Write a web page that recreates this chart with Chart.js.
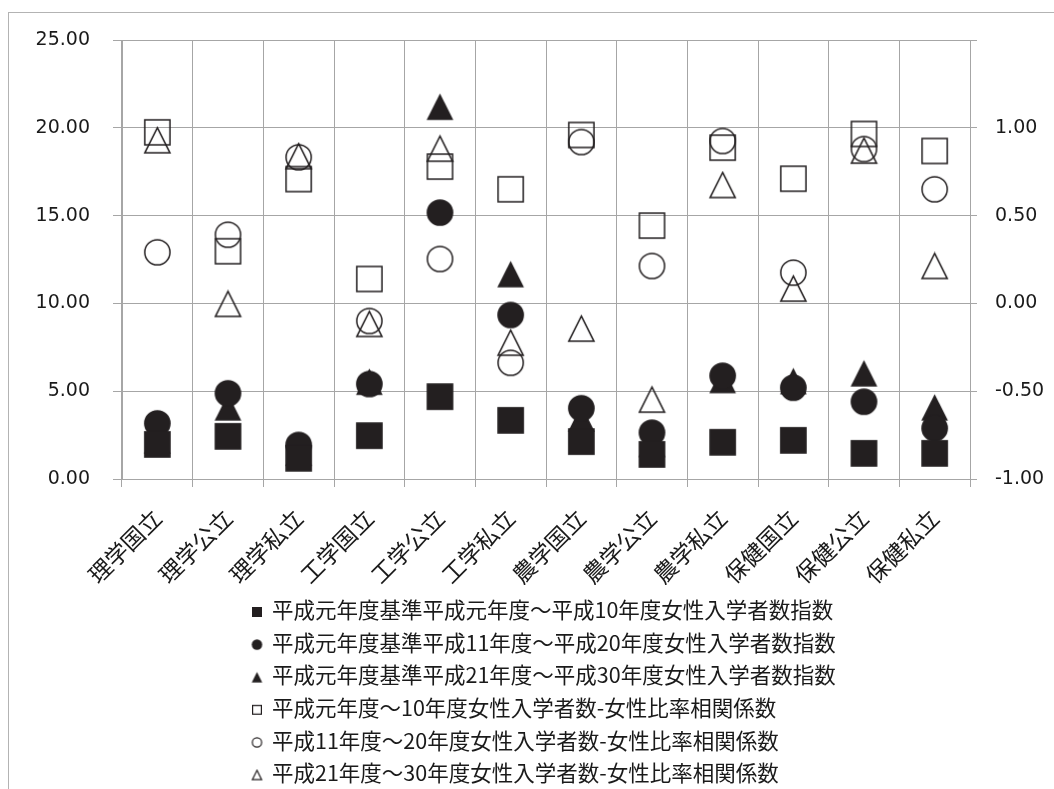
<!DOCTYPE html>
<html lang="ja">
<head>
<meta charset="utf-8">
<title>女性入学者数指数と相関係数</title>
<script src="https://cdn.jsdelivr.net/npm/chart.js@4.4.1/dist/chart.umd.min.js"></script>
<style>
  html, body { margin: 0; padding: 0; background: #fff; overflow: hidden; }
  #frame { position: absolute; left: 8px; top: 12px; width: 1100px; height: 900px;
           border: 1px solid #b3b3b3; box-sizing: border-box; }
  #c { position: absolute; left: 0; top: 0; }
</style>
</head>
<body>
<div id="frame"></div>
<canvas id="c" width="1054" height="789"></canvas>
<script>
// 学部・設置者別のカテゴリ
const categories = ['理学国立', '理学公立', '理学私立', '工学国立', '工学公立', '工学私立',
                    '農学国立', '農学公立', '農学私立', '保健国立', '保健公立', '保健私立'];

// 平成元年度基準の女性入学者数指数（左軸）
const indexH01to10 = [1.97, 2.43, 1.18, 2.47, 4.69, 3.34, 2.13, 1.40, 2.09, 2.20, 1.46, 1.46];
const indexH11to20 = [3.17, 4.88, 1.94, 5.41, 15.17, 9.34, 4.03, 2.64, 5.88, 5.20, 4.40, 2.89];
const indexH21to30 = [2.20, 4.08, 1.50, 5.54, 21.20, 11.67, 3.45, 2.00, 5.64, 5.58, 6.02, 4.08];

// 女性入学者数と女性比率の相関係数（右軸）
const corrH01to10 = [0.974, 0.297, 0.708, 0.139, 0.779, 0.650, 0.959, 0.443, 0.887, 0.710, 0.965, 0.868];
const corrH11to20 = [0.291, 0.391, 0.832, -0.100, 0.253, -0.338, 0.919, 0.213, 0.925, 0.175, 0.879, 0.650];
const corrH21to30 = [0.929, -0.003, 0.838, -0.117, 0.881, -0.224, -0.144, -0.548, 0.674, 0.084, 0.870, 0.213];

// 軸目盛
const leftTickValues  = [0, 5, 10, 15, 20, 25];
const leftTickLabels  = ['0.00', '5.00', '10.00', '15.00', '20.00', '25.00'];
const rightTickValues = [-1, -0.5, 0, 0.5, 1, 1.5];
const rightTickLabels = ['-1.00', '-0.50', '0.00', '0.50', '1.00', ''];

// 凡例ラベル
const seriesLabels = [
  '平成元年度基準平成元年度～平成10年度女性入学者数指数',
  '平成元年度基準平成11年度～平成20年度女性入学者数指数',
  '平成元年度基準平成21年度～平成30年度女性入学者数指数',
  '平成元年度～10年度女性入学者数-女性比率相関係数',
  '平成11年度～20年度女性入学者数-女性比率相関係数',
  '平成21年度～30年度女性入学者数-女性比率相関係数'
];

const INK = '#231f20';
const GRID = '#a6a6a6';
const LATIN = "'DejaVu Sans', 'Noto Sans CJK JP', sans-serif";
const CJK = "'Noto Sans CJK JP', 'DejaVu Sans', sans-serif";

// マーカー画像（square / circle / triangle、塗りつぶし or 白抜き）
function makeMarker(shape, filled, size, lineWidth) {
  const cv = document.createElement('canvas');
  const s = Math.ceil(size) + 2;
  cv.width = s; cv.height = s;
  const g = cv.getContext('2d');
  const c = s / 2, h = size / 2;
  const inset = filled ? 0 : lineWidth / 2;
  g.beginPath();
  if (shape === 'square') {
    g.rect(c - h + inset, c - h + inset, size - 2 * inset, size - 2 * inset);
  } else if (shape === 'circle') {
    g.arc(c, c, h - inset, 0, Math.PI * 2);
  } else {
    g.moveTo(c, c - h + inset);
    g.lineTo(c + h - inset, c + h - inset);
    g.lineTo(c - h + inset, c + h - inset);
    g.closePath();
  }
  if (filled) { g.fillStyle = INK; g.fill(); }
  else { g.strokeStyle = INK; g.lineWidth = lineWidth; g.lineJoin = 'miter'; g.stroke(); }
  return cv;
}

const seriesDefs = [
  { data: indexH01to10, shape: 'square',   filled: true,  axis: 'y'  },
  { data: indexH11to20, shape: 'circle',   filled: true,  axis: 'y'  },
  { data: indexH21to30, shape: 'triangle', filled: true,  axis: 'y'  },
  { data: corrH01to10,  shape: 'square',   filled: false, axis: 'y2' },
  { data: corrH11to20,  shape: 'circle',   filled: false, axis: 'y2' },
  { data: corrH21to30,  shape: 'triangle', filled: false, axis: 'y2' }
];

const datasets = seriesDefs.map((d, i) => ({
  label: seriesLabels[i],
  data: d.data,
  yAxisID: d.axis,
  showLine: false,
  pointStyle: makeMarker(d.shape, d.filled, 26.7, 1.5),
  legendMarker: makeMarker(d.shape, d.filled, d.shape === 'square' ? 10 : 10.5, 1.2),
  pointRadius: 14,
  pointHoverRadius: 14
}));

// 縦並びの凡例
const stackedLegend = {
  id: 'stackedLegend',
  afterDraw(chart) {
    const ctx = chart.ctx;
    ctx.save();
    ctx.font = "21.5px " + CJK;
    ctx.fillStyle = '#1a1a1a';
    ctx.textBaseline = 'middle';
    ctx.textAlign = 'left';
    chart.data.datasets.forEach((ds, i) => {
      const y = 610 + i * 32.6;
      const m = ds.legendMarker;
      ctx.drawImage(m, 257 - m.width / 2, y + 2 - m.height / 2);
      ctx.fillText(ds.label, 272, y);
    });
    ctx.restore();
  }
};

Chart.defaults.font.family = LATIN;
Chart.defaults.color = '#1a1a1a';

new Chart(document.getElementById('c'), {
  type: 'line',
  data: { labels: categories, datasets },
  options: {
    responsive: false,
    animation: false,
    devicePixelRatio: 1,
    layout: { padding: { top: 40, left: 0, right: 0, bottom: 180 } },
    plugins: { legend: { display: false }, tooltip: { enabled: false } },
    scales: {
      x: {
        type: 'category',
        offset: true,
        grid: { offset: true, color: GRID, lineWidth: 1, tickLength: 8 },
        border: { color: GRID },
        ticks: { font: { family: CJK, size: 23 }, minRotation: 45, maxRotation: 45, padding: 17, color: '#1a1a1a' },
        afterFit(s) { s.height = 130; }
      },
      y: {
        position: 'left',
        min: 0, max: 25,
        afterBuildTicks(s) { s.ticks = leftTickValues.map(v => ({ value: v })); },
        ticks: { font: { size: 19 }, padding: 23, callback: (v, i) => leftTickLabels[i] },
        grid: { color: GRID, lineWidth: 1, tickLength: 9 },
        border: { color: GRID },
        afterFit(s) { s.width = 122; }
      },
      y2: {
        position: 'right',
        min: -1, max: 1.5,
        afterBuildTicks(s) { s.ticks = rightTickValues.map(v => ({ value: v })); },
        ticks: { font: { size: 19 }, padding: 18, callback: (v, i) => rightTickLabels[i] },
        grid: { drawOnChartArea: false, color: GRID, lineWidth: 1, tickLength: 7 },
        border: { color: GRID },
        afterFit(s) { s.width = 84; }
      }
    }
  },
  plugins: [stackedLegend]
});
</script>
</body>
</html>
